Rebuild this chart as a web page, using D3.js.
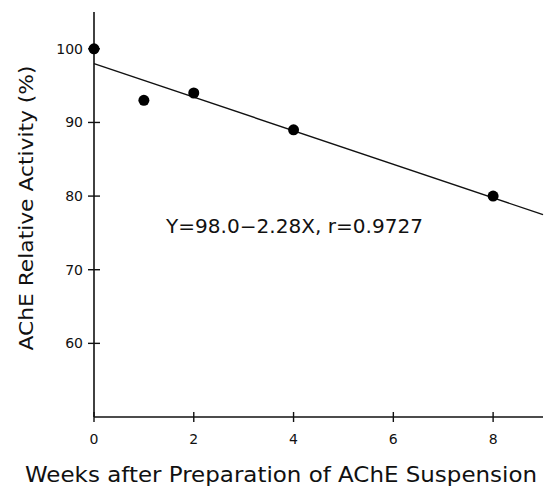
<!DOCTYPE html>
<html>
<head>
<meta charset="utf-8">
<script src="https://cdn.jsdelivr.net/npm/d3@7"></script>
<style>
  body { margin: 0; background: #fff; }
  text { font-family: "DejaVu Sans", sans-serif; fill: #111; }
</style>
</head>
<body>
<div id="chart"></div>
<script>
// data
let weeks = [0, 1, 2, 4, 8];
let activity = [100, 93, 94, 89, 80];
let xTicks = [0, 2, 4, 6, 8];
let yTicks = [60, 70, 80, 90, 100];
let fitIntercept = 98.0;
let fitSlope = -2.28;
let fitLabel = 'Y=98.0\u22122.28X, r=0.9727';

let width = 550, height = 490;
let svg = d3.select('#chart').append('svg')
    .attr('width', width).attr('height', height);

let x = d3.scaleLinear().domain([0, 9]).range([94, 543]);
let y = d3.scaleLinear().domain([50, 105]).range([417, 12]);

// axes lines
svg.append('line')
    .attr('x1', x(0)).attr('x2', x(0))
    .attr('y1', y(50)).attr('y2', y(105))
    .attr('stroke', '#111').attr('stroke-width', 1.6);
svg.append('line')
    .attr('x1', x(0)).attr('x2', x(9))
    .attr('y1', y(50)).attr('y2', y(50))
    .attr('stroke', '#111').attr('stroke-width', 1.6);

// y ticks, crossing the axis
svg.selectAll('.ytick').data(yTicks).enter().append('line')
    .attr('x1', x(0) - 6).attr('x2', x(0) + 6)
    .attr('y1', d => y(d)).attr('y2', d => y(d))
    .attr('stroke', '#111').attr('stroke-width', 1.4);
svg.selectAll('.ylab').data(yTicks).enter().append('text')
    .attr('x', x(0) - 11).attr('y', d => y(d) + 5)
    .attr('text-anchor', 'end').attr('font-size', 14)
    .text(d => d);

// x ticks
svg.selectAll('.xtick').data(xTicks).enter().append('line')
    .attr('x1', d => x(d)).attr('x2', d => x(d))
    .attr('y1', y(50) - 5).attr('y2', y(50) + 5)
    .attr('stroke', '#111').attr('stroke-width', 1.4);
svg.selectAll('.xlab').data(xTicks).enter().append('text')
    .attr('x', d => x(d)).attr('y', y(50) + 27)
    .attr('text-anchor', 'middle').attr('font-size', 14)
    .text(d => d);

// regression line
svg.append('line')
    .attr('x1', x(0)).attr('y1', y(fitIntercept))
    .attr('x2', x(9)).attr('y2', y(fitIntercept + fitSlope * 9))
    .attr('stroke', '#111').attr('stroke-width', 1.4);

// points
svg.selectAll('circle').data(weeks).enter().append('circle')
    .attr('cx', (d, i) => x(d))
    .attr('cy', (d, i) => y(activity[i]))
    .attr('r', 5.5)
    .attr('fill', '#000');

svg.append('text')
    .attr('x', 166).attr('y', 233)
    .attr('font-size', 19)
    .attr('textLength', 257).attr('lengthAdjust', 'spacingAndGlyphs')
    .text(fitLabel);

// axis titles
svg.append('text')
    .attr('transform', 'translate(33,208) rotate(-90)')
    .attr('text-anchor', 'middle').attr('font-size', 20)
    .attr('textLength', 285).attr('lengthAdjust', 'spacingAndGlyphs')
    .text('AChE Relative Activity (%)');
svg.append('text')
    .attr('x', 281).attr('y', 482)
    .attr('text-anchor', 'middle').attr('font-size', 21)
    .attr('textLength', 512).attr('lengthAdjust', 'spacingAndGlyphs')
    .text('Weeks after Preparation of AChE Suspension');
</script>
</body>
</html>
